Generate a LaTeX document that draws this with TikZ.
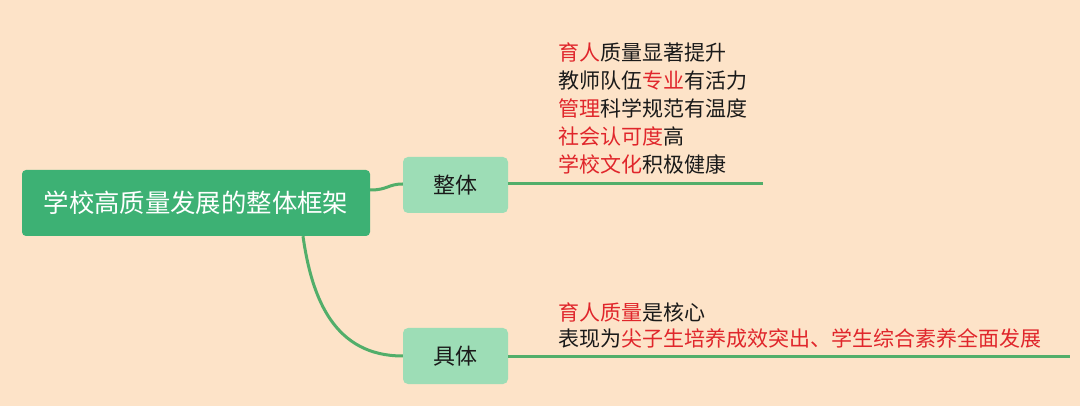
\documentclass[tikz,border=0pt]{standalone}
\usepackage{fontspec}
\setmainfont{Noto Sans CJK SC}
\definecolor{bg}{HTML}{FDE3C8}
\definecolor{rootg}{HTML}{3DB174}
\definecolor{subg}{HTML}{9DDDB6}
\definecolor{lineg}{HTML}{52AE6A}
\definecolor{hl}{HTML}{E0262B}
\definecolor{txt}{HTML}{1A1A1A}
\newcommand{\hlt}[1]{\textcolor{hl}{#1}}
\tikzset{
  rootbox/.style={fill=rootg, rounded corners=4pt, text=white, font=\fontsize{25.4}{30}\selectfont, minimum width=348pt, minimum height=66pt, inner sep=0pt},
  subbox/.style={fill=subg, rounded corners=5pt, text=txt, font=\fontsize{22}{26}\selectfont, minimum width=105pt, minimum height=56pt, inner sep=0pt},
  conn/.style={draw=lineg, line width=3pt},
  leaf/.style={anchor=base west, inner sep=0pt, align=left, text=txt, font=\fontsize{21}{28.2}\selectfont}
}
\begin{document}
\begin{tikzpicture}[x=1pt,y=-1pt]
\fill[bg] (0,0) rectangle (1080,406);
\useasboundingbox (0,0) rectangle (1080,406);
\node[rootbox] (root) at (196,203) {学校高质量发展的整体框架};
\node[subbox] (whole) at (455.5,185) {整体};
\node[subbox] (spec) at (455.5,356) {具体};
\coordinate (wend) at (763,184);
\coordinate (send) at (1070,357);
\node[leaf] (wtext) at (558,173) {\hlt{育人}质量显著提升\\教师队伍\hlt{专业}有活力\\\hlt{管理}科学规范有温度\\\hlt{社会认可度}高\\\hlt{学校文化}积极健康};
\node[leaf, font=\fontsize{21}{26}\selectfont] (stext) at (558,346) {\hlt{育人质量}是核心\\表现为\hlt{尖子生培养成效突出、学生综合素养全面发展}};
\draw[conn] (root.east |- 0,190) .. controls (388,190) and (388,184) .. (whole.west |- 0,184);
\draw[conn] (root.south -| 303,0) .. controls (312,300) and (335,356) .. (spec.west);
\draw[conn] (whole.east |- wend) -- (wend);
\draw[conn] (spec.east |- send) -- (send);
\end{tikzpicture}
\end{document}
